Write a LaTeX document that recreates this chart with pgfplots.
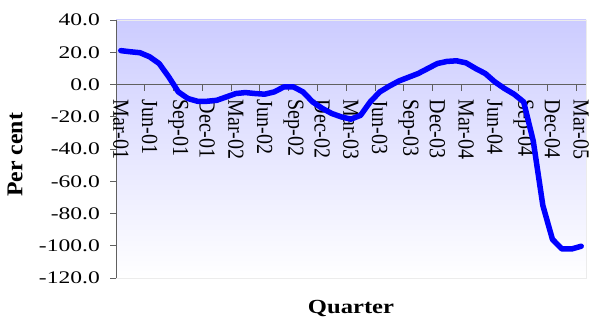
\documentclass[border=0pt]{standalone}
\usepackage{fontspec}
\setmainfont{Liberation Serif}
\usepackage{graphicx}
\usepackage{pgfplots}
\pgfplotsset{compat=1.18}
\usetikzlibrary{calc}

\definecolor{lavender}{RGB}{204,204,255}
\definecolor{axisgray}{RGB}{96,96,96}
\definecolor{seriesblue}{RGB}{0,0,255}

% tick label helpers: wide Excel-style glyphs
\newcommand\tickfont{\fontsize{17.7bp}{20bp}\selectfont}
\newcommand\xl[1]{\scalebox{1.13}[1.3]{#1}}
\newcommand\yl[1]{\scalebox{1.33}[1]{#1}}

% monthly change, Mar-01 (0) to Mar-05 (48)
\pgfplotstableread{
m val
0 21.0
1 20.3
2 19.7
3 17.2
4 13.0
5 4.7
6 -4.6
7 -8.7
8 -10.4
9 -10.4
10 -9.8
11 -7.7
12 -5.6
13 -5.0
14 -5.6
15 -6.0
16 -4.6
17 -1.5
18 -1.5
19 -4.6
20 -10.8
21 -14.8
22 -18.0
23 -20.1
24 -21.5
25 -19.1
26 -10.8
27 -4.6
28 -1.0
29 2.2
30 4.5
31 6.8
32 9.9
33 13.0
34 14.3
35 14.7
36 13.4
37 9.9
38 6.8
39 1.6
40 -2.5
41 -6.0
42 -10.8
43 -35.0
44 -75.0
45 -96.0
46 -102.0
47 -102.0
48 -100.3
}\growth

\begin{document}
\begin{tikzpicture}
\begin{axis}[
  set layers=standard,
  scale only axis,
  width=470bp, height=258bp,
  xmin=-0.5, xmax=48.5,
  ymin=-120, ymax=40,
  % category axis crosses the value axis at zero
  axis x line=bottom,
  axis x line shift=-193.5bp,
  axis y line=left,
  axis line style={axisgray, line width=0.8bp, -},
  axis background/.style={shade, top color=lavender, bottom color=white, draw=gray!15},
  % tick marks sit between the quarters, the names under each quarter
  xtick={-0.5,2.5,...,47.5},
  xticklabels={},
  extra x ticks={0,3,...,48},
  extra x tick labels={\xl{Mar-01},\xl{Jun-01},\xl{Sep-01},\xl{Dec-01},\xl{Mar-02},\xl{Jun-02},\xl{Sep-02},\xl{Dec-02},\xl{Mar-03},\xl{Jun-03},\xl{Sep-03},\xl{Dec-03},\xl{Mar-04},\xl{Jun-04},\xl{Sep-04},\xl{Dec-04},\xl{Mar-05}},
  extra x tick style={tick style={draw=none}},
  tick align=outside,
  ytick={-120,-100,...,40},
  yticklabels={\yl{-120.0},\yl{-100.0},\yl{-80.0},\yl{-60.0},\yl{-40.0},\yl{-20.0},\yl{0.0},\yl{20.0},\yl{40.0}},
  major tick length=6bp,
  tick style={axisgray, line width=0.8bp},
  xticklabel style={font=\tickfont, rotate=-90, anchor=west, inner sep=0pt},
  xticklabel shift=9bp,
  yticklabel style={font=\tickfont, anchor=east, inner sep=0pt, xshift=-10bp},
  xlabel={\scalebox{1.23}[1]{\textbf{Quarter}}},
  ylabel={\scalebox{1.19}[1.13]{\textbf{Per cent}}},
  every axis x label/.style={at={(axis description cs:0.5,0)}, anchor=base, yshift=-35bp, font=\fontsize{20bp}{22bp}\selectfont},
  every axis y label/.style={at={(axis description cs:0,0.477)}, xshift=-101bp, rotate=90, anchor=center, font=\fontsize{20bp}{22bp}\selectfont},
  clip=false,
]
\addplot[seriesblue, line width=5.5bp, line join=round, line cap=round] table[x=m, y=val] {\growth};
\coordinate (sw) at (rel axis cs:0,0);
\coordinate (ne) at (rel axis cs:1,1);
\end{axis}
\pgfresetboundingbox
\path[use as bounding box] ($(sw)+(-116bp,-48bp)$) rectangle ($(ne)+(5bp,20bp)$);
\end{tikzpicture}
\end{document}
